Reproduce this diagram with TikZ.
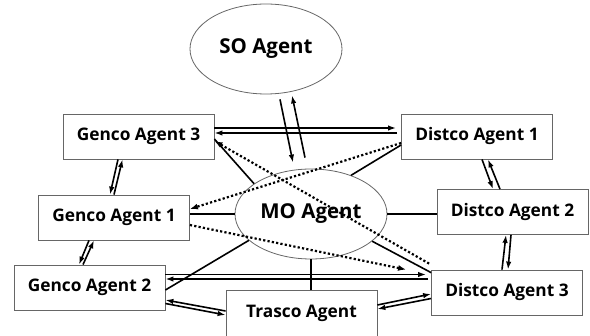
\documentclass[tikz,border=0pt]{standalone}
\usepackage{fontspec}
\setmainfont{Open Sans}
\usetikzlibrary{arrows.meta,shapes.geometric}
\begin{document}
\begin{tikzpicture}[x=1pt,y=-1pt,
  agentbox/.style={draw=black!60,line width=0.8pt,rectangle,minimum width=151pt,minimum height=45pt,inner sep=0pt,font=\fontsize{17.3}{20}\selectfont\bfseries},
  agentoval/.style={draw=black!60,line width=0.8pt,ellipse,minimum width=152pt,minimum height=90pt,inner sep=0pt,font=\fontsize{20.5}{24}\selectfont\bfseries},
  link/.style={line width=1.6pt},
  msg/.style={line width=1.6pt,-{Latex[length=8pt,width=5.5pt]}},
  dotmsg/.style={line width=2.2pt,dash pattern=on 2.2pt off 2.2pt,-{Latex[length=8pt,width=6pt]}}
]
\useasboundingbox (0,0) rectangle (590,336);

% agents
\node[agentoval] (so) at (266,49) {SO Agent};
\node[agentoval] (mo) at (311,214) {MO Agent};
\node[agentbox] (g3) at (138.5,136.5) {Genco Agent 3};
\node[agentbox] (d1) at (477,136.5) {Distco Agent 1};
\node[agentbox] (g1) at (114,217.5) {Genco Agent 1};
\node[agentbox] (d2) at (512.5,212) {Distco Agent 2};
\node[agentbox] (g2) at (89.5,287.5) {Genco Agent 2};
\node[agentbox] (d3) at (507,292.5) {Distco Agent 3};
\node[agentbox,minimum height=46pt] (tr) at (301.5,313) {Trasco Agent};

% SO <-> MO
\draw[msg] ([xshift=14pt,yshift=-5pt]so.south) -- ([xshift=-18pt,yshift=6pt]mo.north);
\draw[msg] ([xshift=-6pt,yshift=11pt]mo.north) -- ([xshift=26pt,yshift=-1pt]so.south);

% Genco 3 <-> Distco 1
\draw[msg] ([yshift=8.5pt]g3.east) -- ([xshift=-5pt,yshift=8.5pt]d1.west);
\draw[msg] ([xshift=-4pt,yshift=3.5pt]d1.west) -- ([yshift=3.5pt]g3.east);

% plain links to the MO agent
\draw[link] ([yshift=-2.5pt]g3.east) -- (mo.152);
\draw[link] ([yshift=-8.5pt]d1.west) -- (mo.44);
\draw[link] (mo.west) -- (mo.west -| g1.east);
\draw[link] (mo.east) -- (mo.east -| d2.west);
\draw[link] (mo.-24) -- ([yshift=-3pt]d3.north west);
\draw[link] (mo.203) -- ([yshift=-2.5pt]g2.east);
\draw[link] (mo.south) -- (mo.south |- tr.north);

% dotted messages
\draw[dotmsg] ([yshift=-6.5pt]d1.west) -- ([yshift=8.5pt]g1.east);
\draw[dotmsg] ([xshift=-2pt,yshift=6pt]d3.north west) -- ([yshift=-4.5pt]g3.east);
\draw[dotmsg] ([yshift=-7.5pt]g1.east) -- ([xshift=-25pt]d3.north west);

% Genco 2 <-> Distco 3
\draw[msg] ([yshift=13pt]g2.east) -- ([xshift=-5pt,yshift=13pt]g2.east -| d3.west);
\draw[msg] ([xshift=-3pt,yshift=8.5pt]g2.east -| d3.west) -- ([yshift=8.5pt]g2.east);

% Trasco links
\draw[msg] ([yshift=2pt]tr.west) -- ([yshift=-12.5pt]g2.east);
\draw[msg] ([yshift=-16pt]g2.east) -- ([yshift=-2pt]tr.west);
\draw[msg] ([yshift=8pt]tr.east) -- ([yshift=-1.5pt]d3.west);
\draw[msg] ([yshift=-6pt]d3.west) -- ([yshift=4pt]tr.east);

% neighbouring agents
\draw[msg] ([xshift=-20.5pt]g3.south) -- ([xshift=-4pt]g1.north);
\draw[msg] (g1.north) -- ([xshift=-16pt]g3.south);
\draw[msg] ([xshift=-25pt]g1.south) -- ([xshift=-10.5pt]g2.north);
\draw[msg] ([xshift=-6.5pt]g2.north) -- ([xshift=-20pt]g1.south);
\draw[msg] ([xshift=5pt]d1.south) -- ([xshift=-19.5pt]d2.north);
\draw[msg] ([xshift=-12.5pt]d2.north) -- ([xshift=11pt]d1.south);
\draw[msg] ([xshift=-5pt]d3.north) -- ([xshift=-6.5pt]d2.south);
\draw[msg] ([xshift=-1.5pt]d2.south) -- ([xshift=1pt]d3.north);
\end{tikzpicture}
\end{document}
